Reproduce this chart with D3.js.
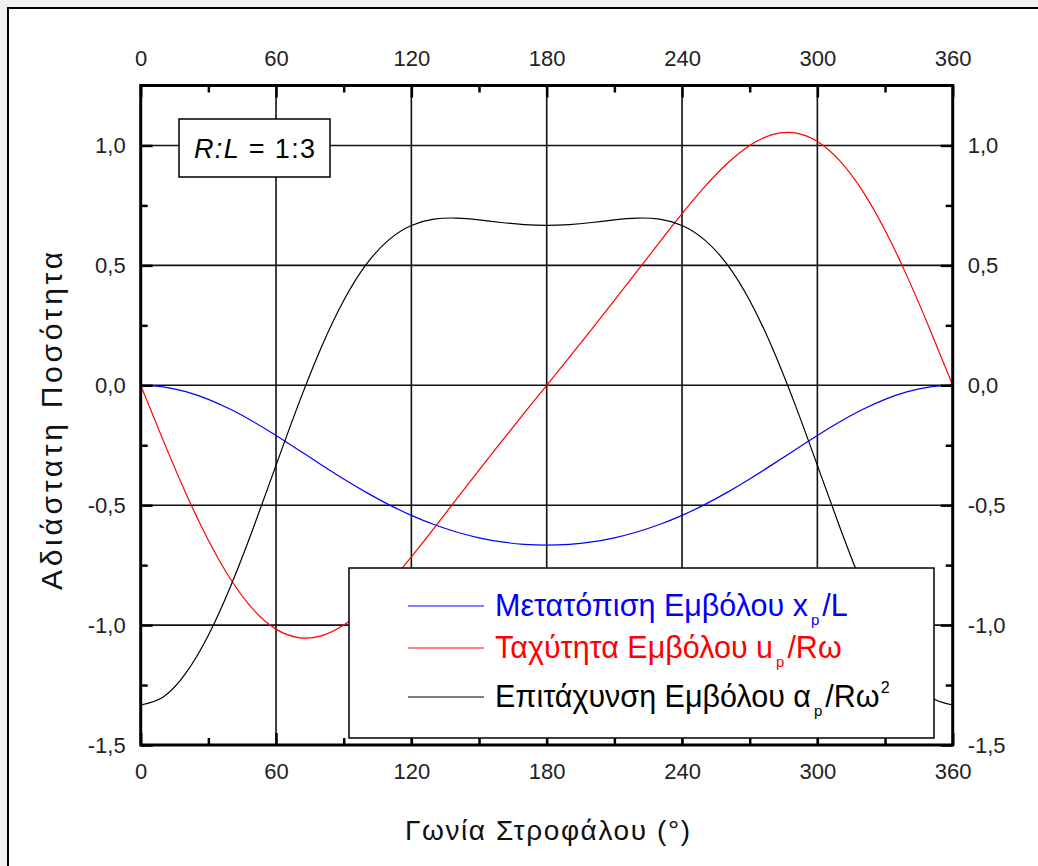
<!DOCTYPE html>
<html>
<head>
<meta charset="utf-8">
<script src="https://cdn.jsdelivr.net/npm/d3@7"></script>
<style>
  html, body { margin: 0; padding: 0; background: #f1f1f1; }
  svg { display: block; }
  text { font-family: Arial, "Liberation Sans", sans-serif; }
</style>
</head>
<body>
<svg id="chart" width="1038" height="866"></svg>
<script>
// ---- data ----
const angles = [0,10,20,30,40,50,60,70,80,90,100,110,120,130,140,150,160,170,180,
  190,200,210,220,230,240,250,260,270,280,290,300,310,320,330,340,350,360];
const displacement = [0,-0.0067,-0.0266,-0.0587,-0.1012,-0.1522,-0.2092,-0.2697,-0.3309,-0.3905,
  -0.4466,-0.4977,-0.5426,-0.5808,-0.6119,-0.6360,-0.6531,-0.6633,-0.6667,
  -0.6633,-0.6531,-0.6360,-0.6119,-0.5808,-0.5426,-0.4977,-0.4466,-0.3905,-0.3309,
  -0.2697,-0.2092,-0.1522,-0.1012,-0.0587,-0.0266,-0.0067,0];
const velocity = [0,-0.2308,-0.4499,-0.6464,-0.8108,-0.9358,-1.0168,-1.0525,-1.0452,-1.0000,
  -0.9245,-0.8269,-0.7153,-0.5963,-0.4748,-0.3536,-0.2342,-0.1166,0,
  0.1166,0.2342,0.3536,0.4748,0.5963,0.7153,0.8269,0.9245,1.0000,1.0452,
  1.0525,1.0168,0.9358,0.8108,0.6464,0.4499,0.2308,0];
const acceleration = [-1.3333,-1.2997,-1.2006,-1.0423,-0.8349,-0.5929,-0.3338,-0.0776,0.1567,0.3536,
  0.5040,0.6064,0.6662,0.6927,0.6972,0.6898,0.6788,0.6700,0.6667,
  0.6700,0.6788,0.6898,0.6972,0.6927,0.6662,0.6064,0.5040,0.3536,0.1567,
  -0.0776,-0.3338,-0.5929,-0.8349,-1.0423,-1.2006,-1.2997,-1.3333];
const xTicks = [0,60,120,180,240,300,360];
const xMinor = [30,90,150,210,270,330];
const yTicks = [-1.5,-1.0,-0.5,0,0.5,1.0];
const yMinor = [-1.25,-0.75,-0.25,0.25,0.75];
const seriesNames = ["Μετατόπιση Εμβόλου x", "Ταχύτητα Εμβόλου u", "Επιτάχυνση Εμβόλου α"];
const seriesColors = ["#0000ff", "#ff0000", "#000000"];
const xTitle = "Γωνία Στροφάλου (°)";
const yTitle = "Αδιάστατη Ποσότητα";

// ---- layout ----
const svg = d3.select("#chart");
const L = 140.7, R = 952.7, T = 85.5, B = 745;
const x = d3.scaleLinear().domain([0, 360]).range([L, R]);
const y = d3.scaleLinear().domain([-1.5, 1.25]).range([B, T]);
const fmt = v => d3.format(".1f")(v).replace(".", ",").replace("−", "-");

// page frame
svg.append("rect").attr("x", 8).attr("y", 8).attr("width", 1040).attr("height", 870)
  .attr("fill", "#fff").attr("stroke", "#000").attr("stroke-width", 2);

// clip
svg.append("clipPath").attr("id", "clip").append("rect")
  .attr("x", L).attr("y", T).attr("width", R - L).attr("height", B - T);

// grid
const grid = svg.append("g").attr("stroke", "#111").attr("stroke-width", 1.6);
grid.selectAll("line.vx").data(xTicks.slice(1, -1)).join("line")
  .attr("x1", d => x(d)).attr("x2", d => x(d)).attr("y1", T).attr("y2", B);
grid.selectAll("line.hy").data(yTicks.slice(1)).join("line")
  .attr("y1", d => y(d)).attr("y2", d => y(d)).attr("x1", L).attr("x2", R);

// curves
const line = d3.line().curve(d3.curveNatural);
const plot = svg.append("g").attr("clip-path", "url(#clip)");
[displacement, velocity, acceleration].forEach((vals, i) => {
  plot.append("path")
    .attr("d", line(angles.map((a, k) => [x(a), y(vals[k])])))
    .attr("fill", "none").attr("stroke", seriesColors[i]).attr("stroke-width", 1.2);
});

// axes (ticks pointing inward)
function styleAxis(g) {
  g.select(".domain").remove();
  g.selectAll(".tick line").attr("stroke", "#000").attr("stroke-width", 2.5);
  g.selectAll(".tick text").attr("font-size", 22).attr("fill", "#222")
    .attr("font-family", "Arial, 'Liberation Sans', sans-serif");
}
// bottom
svg.append("g").attr("transform", `translate(0,${B})`)
  .call(d3.axisBottom(x).tickValues(xTicks).tickSize(-12).tickPadding(18).tickFormat(d3.format("d")))
  .call(styleAxis);
svg.append("g").attr("transform", `translate(0,${B})`)
  .call(d3.axisBottom(x).tickValues(xMinor).tickSize(-7).tickFormat(""))
  .call(styleAxis);
// top
svg.append("g").attr("transform", `translate(0,${T})`)
  .call(d3.axisTop(x).tickValues(xTicks).tickSize(-12).tickPadding(20).tickFormat(d3.format("d")))
  .call(styleAxis);
svg.append("g").attr("transform", `translate(0,${T})`)
  .call(d3.axisTop(x).tickValues(xMinor).tickSize(-7).tickFormat(""))
  .call(styleAxis);
// left
svg.append("g").attr("transform", `translate(${L},0)`)
  .call(d3.axisLeft(y).tickValues(yTicks).tickSize(-12).tickPadding(15).tickFormat(fmt))
  .call(styleAxis);
svg.append("g").attr("transform", `translate(${L},0)`)
  .call(d3.axisLeft(y).tickValues(yMinor).tickSize(-7).tickFormat(""))
  .call(styleAxis);
// right
svg.append("g").attr("transform", `translate(${R},0)`)
  .call(d3.axisRight(y).tickValues(yTicks).tickSize(-12).tickPadding(15).tickFormat(fmt))
  .call(styleAxis);
svg.append("g").attr("transform", `translate(${R},0)`)
  .call(d3.axisRight(y).tickValues(yMinor).tickSize(-7).tickFormat(""))
  .call(styleAxis);

// frame
svg.append("rect").attr("x", L).attr("y", T).attr("width", R - L).attr("height", B - T)
  .attr("fill", "none").attr("stroke", "#000").attr("stroke-width", 3);

// R:L box
svg.append("rect").attr("x", 179).attr("y", 119).attr("width", 151).attr("height", 58)
  .attr("fill", "#fff").attr("stroke", "#000").attr("stroke-width", 1.5);
const rl = svg.append("text").attr("x", 194).attr("y", 158)
  .attr("font-size", 27).attr("fill", "#000")
  .attr("textLength", 121).attr("lengthAdjust", "spacing");
rl.append("tspan").attr("font-style", "italic").text("R:L");
rl.append("tspan").text(" = 1:3");

// legend
svg.append("rect").attr("x", 349).attr("y", 568).attr("width", 585).attr("height", 170)
  .attr("fill", "#fff").attr("stroke", "#000").attr("stroke-width", 1.5);
const legY = [606, 648, 697];
const legSuffix = [["/L", null], ["/Rω", null], ["/Rω", "2"]];
seriesNames.forEach((name, i) => {
  svg.append("line").attr("x1", 408).attr("x2", 484).attr("y1", legY[i]).attr("y2", legY[i])
    .attr("stroke", seriesColors[i]).attr("stroke-width", 1.2);
  const t = svg.append("text").attr("x", 495).attr("y", legY[i] + 10)
    .attr("font-size", 30.5).attr("fill", seriesColors[i]);
  t.append("tspan").text(name);
  t.append("tspan").attr("font-size", 15).attr("dy", 9).attr("dx", 3).text("p");
  t.append("tspan").attr("dy", -9).attr("dx", 3).text(legSuffix[i][0]);
  if (legSuffix[i][1]) {
    t.append("tspan").attr("font-size", 16).attr("dy", -14).attr("dx", 1).text(legSuffix[i][1]);
  }
});

// axis titles
svg.append("text").attr("x", 405).attr("y", 840)
  .attr("font-size", 28).attr("fill", "#111")
  .attr("textLength", 285).attr("lengthAdjust", "spacing").text(xTitle);
svg.append("text").attr("transform", "translate(62,590) rotate(-90)")
  .attr("font-size", 30).attr("fill", "#111")
  .attr("textLength", 338).attr("lengthAdjust", "spacing").text(yTitle);
</script>
</body>
</html>
